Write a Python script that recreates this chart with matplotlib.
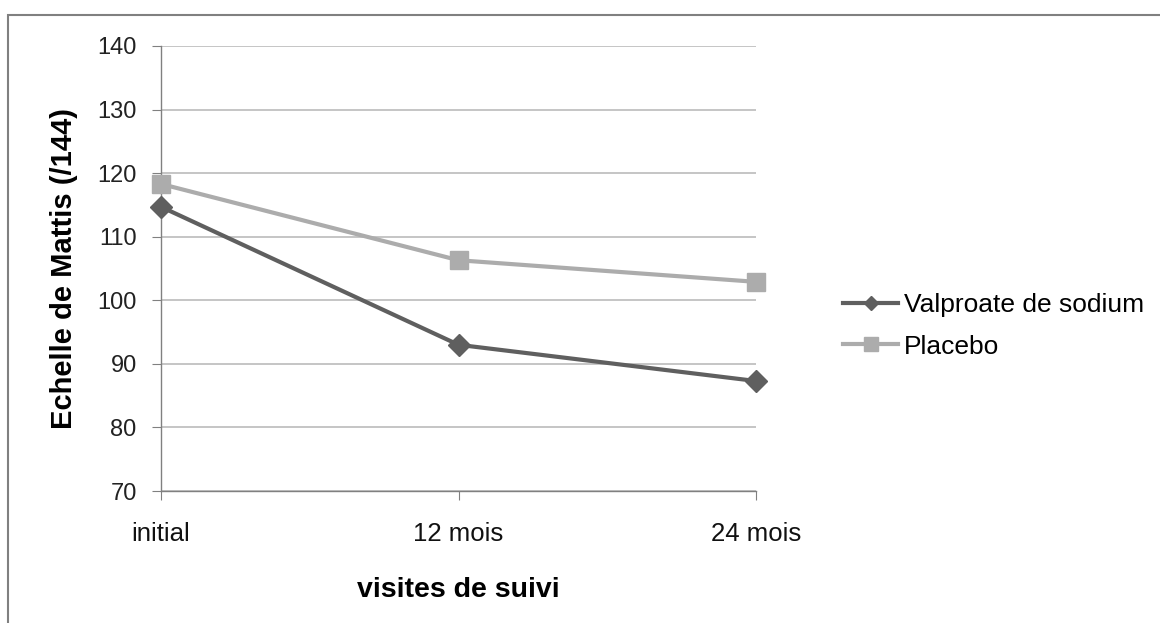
import matplotlib
matplotlib.use("Agg")
import matplotlib.pyplot as plt
from matplotlib.patches import Rectangle
from matplotlib.lines import Line2D

categories = ["initial", "12 mois", "24 mois"]
valproate = [114.7, 93.0, 87.3]
placebo = [118.3, 106.3, 102.9]
series_names = ["Valproate de sodium", "Placebo"]
yticks = [70, 80, 90, 100, 110, 120, 130, 140]

plt.rcParams['font.family'] = ['Liberation Sans', 'DejaVu Sans']

fig = plt.figure(figsize=(11.6, 6.23), dpi=100)
W, H = 1160, 623
ax = fig.add_axes([161 / W, 1 - 491 / H, (756 - 161) / W, (491 - 46) / H])

# outer chart frame
fig.patches.append(Rectangle((8 / W, -0.1), 1.2, 1 - 15 / H + 0.1,
                             transform=fig.transFigure, fill=False,
                             edgecolor="#808080", linewidth=1.5))

dark = "#5f5f5f"
light = "#acacac"
x = list(range(len(categories)))
ax.plot(x, valproate, color=dark, linewidth=3, marker="D", markersize=11,
        label=series_names[0], zorder=3, clip_on=False)
ax.plot(x, placebo, color=light, linewidth=3, marker="s", markersize=13.5,
        label=series_names[1], zorder=3, clip_on=False)

ax.set_xlim(0, 2)
ax.set_ylim(70, 140)
ax.set_yticks(yticks)
ax.set_xticks(x)
ax.set_xticklabels(categories)
ax.yaxis.grid(True, color="#c0c0c0", linewidth=1.3)
ax.set_axisbelow(True)
for s in ["top", "right"]:
    ax.spines[s].set_visible(False)
ax.spines["left"].set_color("#808080")
ax.spines["bottom"].set_color("#808080")
ax.spines["left"].set_linewidth(1)
ax.spines["bottom"].set_linewidth(1)
ax.tick_params(axis="y", length=6.5, color="#808080", labelsize=17, pad=11,
               labelcolor="#222222")
ax.tick_params(axis="x", length=6.5, color="#808080", labelsize=18.5, pad=16,
               labelcolor="#111111")

ax.set_xlabel("visites de suivi", fontsize=20.5, fontweight="bold", labelpad=22)
ax.set_ylabel("Echelle de Mattis (/144)", fontsize=21, fontweight="bold", labelpad=14)

handles = [Line2D([0], [0], color=dark, linewidth=3, marker="D", markersize=7),
           Line2D([0], [0], color=light, linewidth=3, marker="s", markersize=9.5)]
fig.legend(handles, series_names, loc="center left",
           bbox_to_anchor=(843 / W, 1 - 326 / H), frameon=False, fontsize=19,
           handlelength=2.1, handletextpad=0.2, labelspacing=0.65,
           borderaxespad=0, borderpad=0)

fig.savefig("out.png", dpi=100)
